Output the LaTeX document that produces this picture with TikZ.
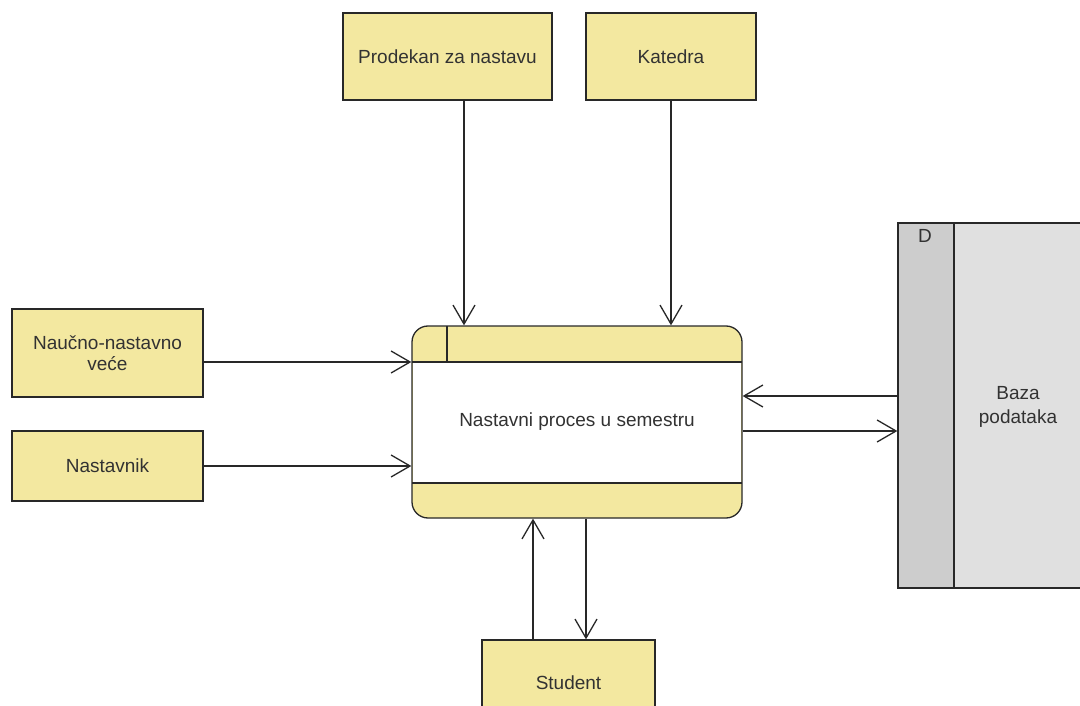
\documentclass[tikz,border=0pt]{standalone}
\usepackage{fontspec}
\setmainfont{Liberation Sans}
\usetikzlibrary{arrows.meta}
\definecolor{entityfill}{RGB}{243,232,160}
\definecolor{storefill}{RGB}{224,224,224}
\definecolor{stripfill}{RGB}{205,205,205}
\definecolor{inkline}{RGB}{40,40,40}
\definecolor{inktext}{RGB}{50,50,50}
\tikzset{
  entity/.style={draw=inkline, line width=1.3pt, fill=entityfill, text=inktext,
    align=center, inner sep=0pt, font=\fontsize{19}{21}\selectfont},
  procbox/.style={draw=inkline, line width=1.3pt, fill=entityfill,
    rounded corners=16pt, inner sep=0pt},
  storebox/.style={draw=inkline, line width=1.3pt, fill=storefill, inner sep=0pt},
  label/.style={text=inktext, align=center, inner sep=0pt,
    font=\fontsize{19}{24}\selectfont},
  flow/.style={draw=inkline, line width=1.3pt,
    -{Straight Barb[length=19pt, width=22pt, line width=1.3pt]}},
}
\begin{document}
\begin{tikzpicture}[x=1pt, y=-1pt]
\useasboundingbox (0,0) rectangle (1080,706);
\clip (0,0) rectangle (1080,706);
\fill[white] (0,0) rectangle (1080,706);

% external entities
\node[entity, minimum width=209pt, minimum height=87pt] (prod) at (447.5,56.5) {Prodekan za nastavu};
\node[entity, minimum width=170pt, minimum height=87pt] (kat) at (671,56.5) {Katedra};
\node[entity, minimum width=191pt, minimum height=88pt] (nauc) at (107.5,353) {Naučno-nastavno\\veće};
\node[entity, minimum width=191pt, minimum height=70pt] (nast) at (107.5,466) {Nastavnik};
\node[entity, minimum width=173pt, minimum height=86pt] (stud) at (568.5,683) {Student};

% process
\node[procbox, minimum width=330pt, minimum height=192pt] (proc) at (577,422) {};
\fill[white] (413,362) rectangle (741,483);
\draw[draw=inkline, line width=1.3pt] (412,362) -- (742,362);
\draw[draw=inkline, line width=1.3pt] (412,483) -- (742,483);
\draw[draw=inkline, line width=1.3pt] (447,326) -- (447,362);
\node[label] (proctext) at (577,422) {Nastavni proces u semestru};

% data store
\node[storebox, minimum width=184pt, minimum height=365pt] (store) at (990,405.5) {};
\fill[stripfill] (898.65,223.65) rectangle (954,587.35);
\draw[draw=inkline, line width=1.3pt] (954,223) -- (954,588);
\node[label] (storeid) at (925,236) {D};
\node[label] (storetext) at (1018,407) {Baza\\podataka};

% flows
\coordinate (pa) at ([xshift=16.5pt]prod.south);
\draw[flow] (pa) -- (pa |- proc.north);
\draw[flow] (kat.south) -- (kat.south |- proc.north);
\coordinate (na) at ([yshift=-9pt]nauc.east);
\draw[flow] (na) -- (na -| proc.west);
\draw[flow] (nast.east) -- (nast.east -| proc.west);
\coordinate (sa) at ([yshift=9.5pt]store.west);
\draw[flow] (sa) -- (sa -| proc.east);
\coordinate (sb) at ([yshift=-9pt]proc.east);
\draw[flow] (sb) -- (sb -| store.west);
\coordinate (su) at ([xshift=-35.5pt]stud.north);
\draw[flow] (su) -- (su |- proc.south);
\coordinate (sd) at ([xshift=9pt]proc.south);
\draw[flow] (sd) -- (sd |- stud.north);
\end{tikzpicture}
\end{document}
